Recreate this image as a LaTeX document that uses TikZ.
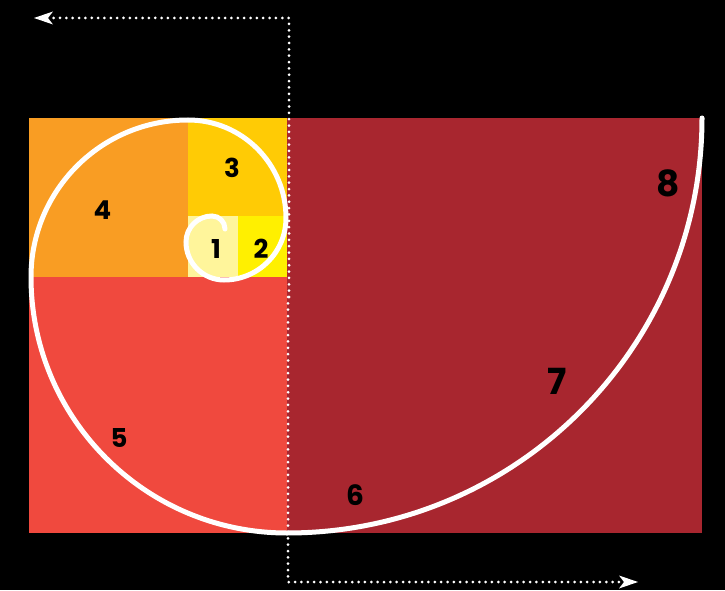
\documentclass[tikz,border=0pt]{standalone}
\usepackage{fontspec}
\setmainfont{Poppins}
\usetikzlibrary{arrows.meta}
\definecolor{sqone}{HTML}{FFF59B}
\definecolor{sqtwo}{HTML}{FFF000}
\definecolor{sqthree}{HTML}{FFCB05}
\definecolor{sqfour}{HTML}{F99D23}
\definecolor{sqfive}{HTML}{F0493E}
\definecolor{sqseven}{HTML}{A8262F}
\begin{document}
\begin{tikzpicture}[x=1pt,y=1pt,
  lbl/.style={font=\bfseries\fontsize{26}{26}\selectfont, text=black, inner sep=0pt},
  biglbl/.style={lbl, font=\bfseries\fontsize{36}{36}\selectfont},
  spiral/.style={draw=white, line width=5pt, line cap=round},
  dotline/.style={draw=white, line width=3pt, line cap=round, dash pattern=on 0pt off 6.35pt,
    -{Stealth[length=19pt, width=13pt, inset=5pt, fill=white, line width=0pt, sep=0pt]}}]
\fill[black] (0,0) rectangle (725,590);
\useasboundingbox (0,0) rectangle (725,590);
% squares
\fill[sqfour]  (29,313) rectangle (188,472);
\fill[sqthree] (188,374) rectangle (287,472);
\fill[sqone]   (188,313) rectangle (238,374);
\fill[sqtwo]   (238,313) rectangle (287,374);
\fill[sqfive]  (29,57) rectangle (287,313);
\fill[sqseven] (287,57) rectangle (702,472);
% spiral
\draw[spiral] (702,472)
  arc[start angle=0,end angle=-90,radius=415]
  arc[start angle=-90,end angle=-180,radius=256]
  arc[start angle=180,end angle=90,radius=157]
  arc[start angle=90,end angle=0,radius=98]
  arc[start angle=0,end angle=-90,radius=62]
  arc[start angle=-90,end angle=-180,radius=38]
  arc[start angle=180,end angle=90,radius=26]
  arc[start angle=90,end angle=0,radius=13];
% labels
\node[lbl] (l1) at (216,341) {1};
\node[lbl] (l2) at (261,341) {2};
\node[lbl] (l3) at (232,422) {3};
\node[lbl] (l4) at (102.5,380) {4};
\node[lbl] (l5) at (119,152) {5};
\node[lbl, font=\bfseries\fontsize{28}{28}\selectfont] (l6) at (355,95) {6};
\node[biglbl] (l7) at (557,209) {7};
\node[biglbl] (l8) at (668,407) {8};
% dotted arrows
\coordinate (topstart) at (289,293);
\coordinate (topcorner) at (289,572);
\coordinate (topend) at (34,572);
\coordinate (botstart) at (288,293);
\coordinate (botcorner) at (288,8);
\coordinate (botend) at (638,8);
\draw[dotline] (topstart) -- (topcorner) -- (topend);
\draw[dotline] (botstart) -- (botcorner) -- (botend);
\end{tikzpicture}
\end{document}
